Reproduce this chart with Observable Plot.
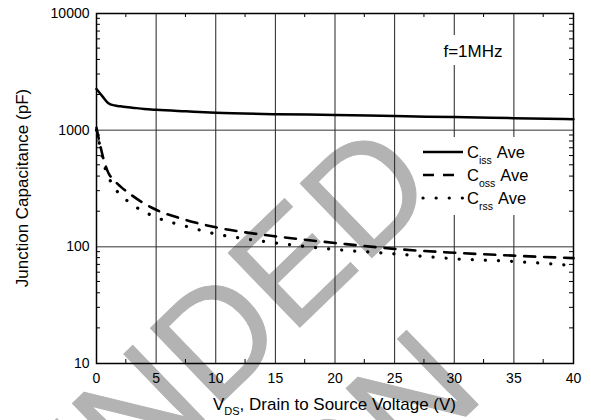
<!DOCTYPE html>
<html><head><meta charset="utf-8">
<script src="https://cdn.jsdelivr.net/npm/d3@7"></script>
<script src="https://cdn.jsdelivr.net/npm/@observablehq/plot@0.6"></script>
<style>body{margin:0;background:#fff;} svg{display:block}</style>
</head><body><div id="chart"></div>
<script>
(function () {
// ---- data ----
const vIss = [0, 0.5, 1, 1.5, 2, 3, 4, 5, 7.5, 10, 15, 20, 25, 30, 35, 40];
const ciss = [2250, 1950, 1700, 1630, 1600, 1560, 1520, 1495, 1450, 1410, 1372, 1350, 1320, 1295, 1268, 1242];
const vOss = [0, 0.3, 0.6, 1, 1.5, 2, 3, 4, 5, 7.5, 10, 12.5, 15, 20, 25, 30, 35, 40];
const coss = [1050, 750, 560, 430, 370, 330, 275, 235, 208, 170, 147, 133, 123, 108, 96, 89, 84, 80];
const vRss = [0, 0.3, 0.6, 1, 1.5, 2, 3, 4, 5, 7.5, 10, 12.5, 15, 20, 25, 30, 35, 40];
const crss = [1000, 720, 520, 400, 320, 280, 230, 200, 179, 150, 129, 117, 108, 95, 87, 79, 75, 69];

const xTicks = [0, 5, 10, 15, 20, 25, 30, 35, 40];
const xGrid = [5, 10, 15, 20, 25, 30, 35];
const xMinor = [2.5, 7.5, 12.5, 17.5, 22.5, 27.5, 32.5, 37.5];
const yTicks = [10, 100, 1000, 10000];
const yGrid = [100, 1000];
const yMinor = [10, 100, 1000].flatMap(k => [2, 3, 4, 5, 6, 7, 8, 9].map(m => m * k));
const legendSubs = ["iss", "oss", "rss"];
const legendSuffix = "Ave";
const noteText = "f=1MHz";
const xLabelMain = "V", xLabelSub = "DS", xLabelRest = ", Drain to Source Voltage (V)";
const yLabel = "Junction Capacitance (pF)";
const watermark = ["NOT RECOMMENDED", "FOR NEW DESIGN"];

const issRows = vIss.map((v, i) => ({v, c: ciss[i]}));
const ossRows = vOss.map((v, i) => ({v, c: coss[i]}));
const rssRows = vRss.map((v, i) => ({v, c: crss[i]}));

const FONT = "Arial, 'Liberation Sans', Helvetica, sans-serif";
const dashOss = "11,9", dashRss = "0.1,13";

const chart = Plot.plot({
  width: 591, height: 420,
  marginLeft: 96, marginRight: 18, marginTop: 13, marginBottom: 57,
  style: {fontFamily: FONT, fontSize: "14px", color: "black", background: "white"},
  x: {domain: [0, 40]},
  y: {type: "log", domain: [10, 10000]},
  marks: [
    Plot.ruleX(xGrid, {stroke: "#222", strokeWidth: 1}),
    Plot.ruleY(yGrid, {stroke: "#333", strokeWidth: 1}),
    Plot.line(issRows, {x: "v", y: "c", stroke: "black", strokeWidth: 2.5, curve: "monotone-x"}),
    Plot.line(ossRows, {x: "v", y: "c", stroke: "black", strokeWidth: 2.6, strokeDasharray: dashOss, curve: "monotone-x"}),
    Plot.line(rssRows, {x: "v", y: "c", stroke: "black", strokeWidth: 3.2, strokeDasharray: dashRss, strokeLinecap: "round", curve: "monotone-x"}),
    Plot.frame({stroke: "black", strokeWidth: 1.5}),
    Plot.axisX({ticks: xTicks, tickSize: 0, tickPadding: 10, fontSize: 14, label: null}),
    Plot.axisY({ticks: yTicks, tickSize: 0, tickPadding: 7, fontSize: 14, tickFormat: d => String(d), label: null})
  ]
});

const svg = d3.select(chart);
const sx = chart.scale("x"), sy = chart.scale("y");
const X = v => sx.apply(v), Y = v => sy.apply(v);
const pLeft = X(0), pRight = X(40), pTop = Y(10000), pBottom = Y(10);

// watermark (behind everything)
const wm = svg.insert("g", ":first-child").attr("fill", "#b3b3b3").attr("stroke", "#b3b3b3").attr("stroke-width", 1)
  .attr("stroke-linejoin", "round").attr("font-family", FONT).attr("font-size", 150);
wm.append("text").attr("transform", "translate(441,191) rotate(-44)").attr("text-anchor", "end").text(watermark[0]);
wm.append("text").attr("transform", "translate(487,396) rotate(-44)").attr("text-anchor", "end").text(watermark[1]);

// legend + note (above grid, below curves)
const firstLine = chart.querySelector('g[aria-label="line"]');
const lg = d3.create("svg:g").attr("font-family", FONT).attr("text-anchor", "start").attr("fill", "black");
lg.append("rect").attr("x", 417).attr("y", 137).attr("width", 128).attr("height", 78).attr("fill", "white");
lg.append("rect").attr("x", 438).attr("y", 35).attr("width", 70).attr("height", 30).attr("fill", "white");
lg.append("text").attr("x", 473).attr("y", 57).attr("text-anchor", "middle").attr("font-size", 17).text(noteText);
const dashes = [null, dashOss, dashRss];
const widths = [2.5, 2.6, 3.2];
legendSubs.forEach((s, i) => {
  const cy = 152 + i * 23;
  lg.append("line").attr("x1", 423).attr("x2", 463).attr("y1", cy).attr("y2", cy)
    .attr("stroke", "black").attr("stroke-width", widths[i])
    .attr("stroke-dasharray", dashes[i]).attr("stroke-linecap", i === 2 ? "round" : "butt");
  const t = lg.append("text").attr("x", 467).attr("y", cy + 6).attr("font-size", 16.5).attr("text-anchor", "start");
  t.append("tspan").text("C");
  t.append("tspan").attr("font-size", 10.5).attr("dy", 6).text(s);
  t.append("tspan").attr("dy", -6).attr("dx", 5).text(legendSuffix);
});
chart.insertBefore(lg.node(), firstLine);

// minor ticks on frame (inward)
const mt = svg.append("g").attr("stroke", "black").attr("stroke-width", 1);
yMinor.forEach(v => {
  mt.append("line").attr("x1", pLeft).attr("x2", pLeft + 4).attr("y1", Y(v)).attr("y2", Y(v));
  mt.append("line").attr("x1", pRight - 4).attr("x2", pRight).attr("y1", Y(v)).attr("y2", Y(v));
});
xMinor.forEach(v => {
  mt.append("line").attr("x1", X(v)).attr("x2", X(v)).attr("y1", pBottom).attr("y2", pBottom - 4);
  mt.append("line").attr("x1", X(v)).attr("x2", X(v)).attr("y1", pTop).attr("y2", pTop + 4);
});

// axis labels
const xl = svg.append("text").attr("x", (pLeft + pRight) / 2).attr("y", 410).attr("text-anchor", "middle")
  .attr("font-family", FONT).attr("font-size", 17).attr("fill", "black");
xl.append("tspan").text(xLabelMain);
xl.append("tspan").attr("font-size", 11).attr("dy", 5).text(xLabelSub);
xl.append("tspan").attr("dy", -5).text(xLabelRest);
svg.append("text").attr("transform", `translate(28,${(pTop + pBottom) / 2}) rotate(-90)`).attr("text-anchor", "middle")
  .attr("font-family", FONT).attr("font-size", 17).attr("fill", "black").text(yLabel);

document.getElementById("chart").appendChild(chart);
})();
</script></body></html>
